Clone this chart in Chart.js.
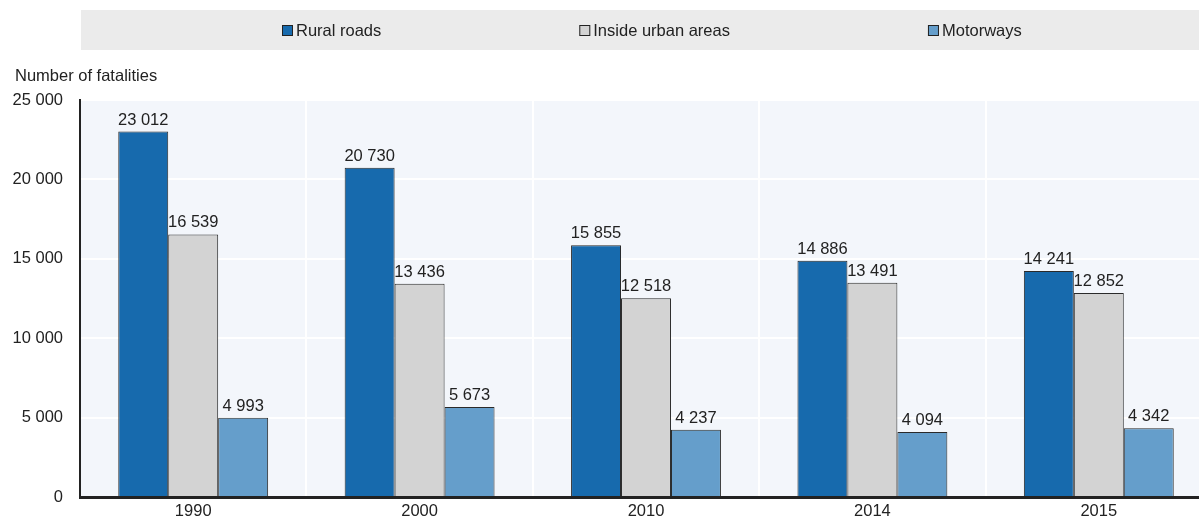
<!DOCTYPE html>
<html>
<head>
<meta charset="utf-8">
<script src="https://cdn.jsdelivr.net/npm/chart.js@4/dist/chart.umd.min.js"></script>
<style>
  html, body { margin: 0; padding: 0; background: #fff; overflow: hidden; }
  #wrap { width: 1212px; height: 524px; }
</style>
</head>
<body>
<div id="wrap"><canvas id="chart" width="1212" height="524"></canvas></div>
<script>
const years = ['1990', '2000', '2010', '2014', '2015'];
const ruralRoads = [23012, 20730, 15855, 14886, 14241];
const urbanAreas = [16539, 13436, 12518, 13491, 12852];
const motorways = [4993, 5673, 4237, 4094, 4342];
const yTicks = [0, 5000, 10000, 15000, 20000, 25000];

const FONT = "'Liberation Sans', Arial, sans-serif";
const SIZE = 16.5;
const TEXT = '#222222';

function fmt(v) {
  return String(v).replace(/\B(?=(\d{3})+(?!\d))/g, ' ');
}

const panel = {
  id: 'panel',
  beforeDraw(chart) {
    const { ctx, chartArea } = chart;
    ctx.save();
    ctx.fillStyle = '#f3f6fb';
    ctx.fillRect(chartArea.left, chartArea.top, chartArea.right - chartArea.left, chartArea.bottom - chartArea.top);
    // legend band
    ctx.fillStyle = '#ebebeb';
    ctx.fillRect(81, 10, 1199 - 81, 40);
    ctx.font = SIZE + 'px ' + FONT;
    ctx.textBaseline = 'middle';
    const gap = 198;
    const items = chart.data.datasets.map(ds => ({
      label: ds.label, color: ds.backgroundColor,
      w: 14 + ctx.measureText(ds.label).width
    }));
    let x = 282;
    items.forEach(it => {
      ctx.fillStyle = it.color;
      ctx.fillRect(x, 25, 11, 11);
      ctx.strokeStyle = '#222';
      ctx.lineWidth = 1;
      ctx.strokeRect(x + 0.5, 25.5, 10, 10);
      ctx.fillStyle = TEXT;
      ctx.textAlign = 'left';
      ctx.fillText(it.label, x + 14, 31);
      x += it.w + gap;
    });
    // axis title
    ctx.fillText('Number of fatalities', 15, 76);
    ctx.restore();
  },
  afterDatasetsDraw(chart) {
    const { ctx } = chart;
    ctx.save();
    ctx.font = SIZE + 'px ' + FONT;
    ctx.fillStyle = TEXT;
    ctx.textAlign = 'center';
    ctx.textBaseline = 'alphabetic';
    chart.data.datasets.forEach((ds, i) => {
      chart.getDatasetMeta(i).data.forEach((bar, j) => {
        ctx.fillText(fmt(ds.data[j]), bar.x, bar.y - 7);
      });
    });
    ctx.restore();
  }
};

new Chart(document.getElementById('chart'), {
  type: 'bar',
  data: {
    labels: years,
    datasets: [
      { label: 'Rural roads', data: ruralRoads, backgroundColor: '#176aad' },
      { label: 'Inside urban areas', data: urbanAreas, backgroundColor: '#d3d3d3' },
      { label: 'Motorways', data: motorways, backgroundColor: '#659ecb' }
    ].map(ds => Object.assign(ds, {
      borderColor: '#2a2a2a', borderWidth: 1,
      categoryPercentage: 0.662, barPercentage: 1
    }))
  },
  options: {
    responsive: false,
    animation: false,
    layout: { padding: { top: 100, left: 0, right: 0, bottom: 0 } },
    plugins: {
      legend: { display: false },
      title: { display: false },
      tooltip: { enabled: false }
    },
    scales: {
      x: {
        grid: { color: '#ffffff', lineWidth: 2, drawTicks: false, offset: true },
        border: { display: true, color: '#222', width: 3 },
        ticks: { color: TEXT, font: { family: FONT, size: SIZE }, padding: 4 },
        afterFit(scale) { scale.height = 22; }
      },
      y: {
        min: 0, max: 25000,
        afterBuildTicks(scale) { scale.ticks = yTicks.map(v => ({ value: v })); },
        grid: { color: '#ffffff', lineWidth: 2, drawTicks: false },
        border: { display: true, color: '#222', width: 2 },
        ticks: {
          color: TEXT, font: { family: FONT, size: SIZE }, padding: 17,
          callback: v => fmt(v)
        },
        afterFit(scale) { scale.width = 80; }
      }
    }
  },
  plugins: [panel]
});
</script>
</body>
</html>
